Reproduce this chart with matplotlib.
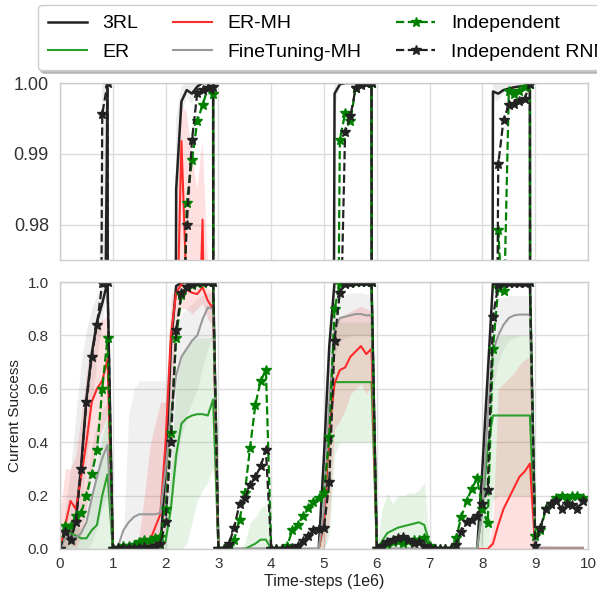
import matplotlib.pyplot as plt
import numpy as np

# evaluation points: 10 tasks, 10 evaluations per task (x in 1e6 steps)
x = np.arange(100) / 10

# mean curves, given per task segment (missing segments are 0)
rl3 = {0: [0.0, 0.07, 0.04, 0.11, 0.31, 0.56, 0.73, 0.85, 0.92, 1.0],
       2: [0.30, 0.76, 0.985, 0.9974, 0.999, 0.9985, 0.9995, 1.0, 1.0, 1.0],
       5: [0.35, 0.76, 0.9985, 0.9998, 1.0, 1.0, 1.0, 1.0, 1.0, 1.0],
       8: [0.30, 0.65, 0.9988, 0.9985, 0.999, 0.9992, 0.9994, 0.9995, 0.9996, 0.999]}
er = {0: [0.0, 0.08, 0.06, 0.05, 0.04, 0.04, 0.07, 0.09, 0.20, 0.28],
      2: [0.03, 0.15, 0.35, 0.47, 0.49, 0.50, 0.505, 0.505, 0.50, 0.56],
      3: [0.0, 0.0, 0.0, 0.0, 0.0, 0.0, 0.01, 0.02, 0.035, 0.035],
      5: [0.10, 0.45, 0.625, 0.625, 0.625, 0.625, 0.625, 0.625, 0.625, 0.625],
      6: [0.0, 0.03, 0.06, 0.07, 0.08, 0.085, 0.09, 0.095, 0.10, 0.09],
      7: [0.02, 0.0, 0.0, 0.0, 0.0, 0.0, 0.0, 0.0, 0.0, 0.0],
      8: [0.15, 0.38, 0.5, 0.5, 0.5, 0.5, 0.5, 0.5, 0.5, 0.5]}
er_mh = {0: [0.0, 0.09, 0.18, 0.15, 0.27, 0.40, 0.55, 0.60, 0.63, 0.71],
         1: [0.0, 0.0, 0.0, 0.0, 0.0, 0.0, 0.0, 0.03, 0.08, 0.13],
         2: [0.40, 0.80, 0.96, 0.9918, 0.97, 0.96, 0.955, 0.9807, 0.93, 0.90],
         5: [0.10, 0.45, 0.62, 0.67, 0.68, 0.72, 0.74, 0.76, 0.73, 0.75],
         8: [0.0, 0.0, 0.02, 0.09, 0.15, 0.19, 0.23, 0.27, 0.29, 0.32]}
ft_mh = {0: [0.0, 0.04, 0.05, 0.04, 0.06, 0.10, 0.19, 0.27, 0.34, 0.39],
         1: [0.0, 0.01, 0.07, 0.10, 0.12, 0.13, 0.13, 0.13, 0.13, 0.135],
         2: [0.30, 0.50, 0.65, 0.72, 0.75, 0.78, 0.80, 0.86, 0.905, 0.90],
         5: [0.15, 0.55, 0.82, 0.865, 0.87, 0.875, 0.88, 0.88, 0.875, 0.875],
         8: [0.15, 0.50, 0.74, 0.80, 0.84, 0.865, 0.875, 0.878, 0.878, 0.878],
         9: [0.0, 0.005, 0.005, 0.005, 0.005, 0.005, 0.005, 0.005, 0.005, 0.005]}
indep = {0: [0.0, 0.088, 0.088, 0.125, 0.135, 0.2, 0.28, 0.37, 0.60, 0.79],
         1: [0.0, 0.005, 0.01, 0.013, 0.015, 0.025, 0.035, 0.035, 0.04, 0.045],
         2: [0.15, 0.435, 0.79, 0.95, 0.983, 0.9891, 0.9946, 0.9969, 0.9993, 0.9985],
         3: [0.0, 0.0, 0.01, 0.035, 0.11, 0.21, 0.38, 0.54, 0.63, 0.67],
         4: [0.0, 0.0, 0.0, 0.01, 0.07, 0.09, 0.125, 0.155, 0.175, 0.19],
         5: [0.21, 0.42, 0.90, 0.992, 0.9957, 0.9946, 0.9993, 0.9998, 1.0, 1.0],
         6: [0.0, 0.01, 0.02, 0.028, 0.03, 0.022, 0.03, 0.032, 0.035, 0.04],
         7: [0.012, 0.0, 0.0, 0.0, 0.0, 0.04, 0.12, 0.18, 0.225, 0.265],
         8: [0.15, 0.096, 0.75, 0.9793, 0.965, 0.9988, 0.9985, 0.9988, 0.9995, 0.9999],
         9: [0.05, 0.07, 0.15, 0.17, 0.19, 0.2, 0.19, 0.2, 0.2, 0.19]}
indep_rnn = {0: [0.0, 0.065, 0.034, 0.10, 0.30, 0.55, 0.72, 0.84, 0.9956, 1.0],
             1: [0.0, 0.003, 0.005, 0.003, 0.005, 0.004, 0.006, 0.005, 0.01, 0.02],
             2: [0.10, 0.40, 0.82, 0.96, 0.980, 0.992, 0.9986, 0.999, 0.9993, 0.9994],
             3: [0.0, 0.0, 0.02, 0.08, 0.17, 0.19, 0.24, 0.27, 0.31, 0.37],
             4: [0.0, 0.0, 0.0, 0.0, 0.005, 0.01, 0.03, 0.05, 0.07, 0.075],
             5: [0.08, 0.25, 0.78, 0.96, 0.9931, 0.9953, 0.9993, 0.9997, 1.0, 1.0],
             6: [0.0, 0.01, 0.025, 0.033, 0.04, 0.045, 0.035, 0.023, 0.027, 0.012],
             7: [0.005, 0.0, 0.0, 0.0, 0.0, 0.015, 0.065, 0.10, 0.11, 0.125],
             8: [0.17, 0.22, 0.87, 0.9885, 0.9948, 0.9969, 0.9971, 0.9975, 0.9978, 0.9998],
             9: [0.01, 0.08, 0.15, 0.17, 0.18, 0.15, 0.17, 0.165, 0.15, 0.18]}

# shaded bands (lower / upper), per segment
rl3_lo = {0: [0, 0.0, 0.0, 0.02, 0.12, 0.33, 0.52, 0.72, 0.85, 1.0],
          2: [0.15, 0.65, 0.975, 0.9955, 0.998, 0.997, 0.999, 1.0, 1.0, 1.0],
          5: [0.2, 0.65, 0.996, 0.9995, 1, 1, 1, 1, 1, 1],
          8: [0.2, 0.55, 0.9975, 0.9975, 0.9985, 0.999, 0.9992, 0.9993, 0.9994, 0.998]}
rl3_hi = {0: [0, 0.15, 0.3, 0.5, 0.7, 0.82, 0.9, 0.95, 1.0, 1.0],
          2: [0.45, 0.87, 0.995, 0.9995, 1, 1, 1, 1, 1, 1],
          5: [0.5, 0.87, 1, 1, 1, 1, 1, 1, 1, 1],
          8: [0.45, 0.8, 1, 1, 1, 1, 1, 1, 1, 1]}
er_lo = {2: [0, 0, 0, 0, 0.02, 0.1, 0.18, 0.22, 0.25, 0.3],
         5: [0, 0.05, 0.35, 0.4, 0.4, 0.4, 0.4, 0.4, 0.4, 0.4],
         8: [0, 0.0, 0.18, 0.2, 0.2, 0.2, 0.2, 0.2, 0.2, 0.2]}
er_hi = {0: [0, 0.1, 0.1, 0.08, 0.08, 0.1, 0.2, 0.3, 0.42, 0.5],
         2: [0.1, 0.3, 0.62, 0.72, 0.76, 0.78, 0.79, 0.79, 0.79, 0.8],
         3: [0, 0, 0, 0, 0, 0.02, 0.1, 0.12, 0.15, 0.17],
         5: [0.1, 0.6, 0.85, 0.85, 0.85, 0.85, 0.85, 0.85, 0.85, 0.85],
         6: [0, 0.15, 0.21, 0.17, 0.2, 0.2, 0.21, 0.21, 0.22, 0.25],
         7: [0.02, 0, 0, 0, 0, 0, 0, 0, 0, 0],
         8: [0.1, 0.65, 0.78, 0.8, 0.8, 0.8, 0.8, 0.8, 0.8, 0.8]}
er_mh_lo = {0: [0, 0, 0.02, 0.0, 0.05, 0.15, 0.3, 0.4, 0.45, 0.5],
            2: [0.1, 0.5, 0.85, 0.9, 0.9, 0.88, 0.9, 0.92, 0.86, 0.84],
            5: [0, 0.1, 0.45, 0.48, 0.52, 0.58, 0.6, 0.62, 0.58, 0.62]}
er_mh_hi = {0: [0.12, 0.3, 0.3, 0.35, 0.5, 0.66, 0.78, 0.84, 0.86, 0.87],
            1: [0, 0, 0, 0, 0, 0.05, 0.2, 0.38, 0.47, 0.55],
            2: [0.55, 0.95, 0.985, 0.9965, 0.996, 0.99, 0.985, 0.992, 0.975, 0.97],
            5: [0.1, 0.6, 0.84, 0.87, 0.88, 0.89, 0.9, 0.91, 0.9, 0.89],
            8: [0, 0, 0.1, 0.6, 0.62, 0.64, 0.66, 0.69, 0.71, 0.72]}
ft_lo = {0: [0, 0, 0, 0, 0, 0, 0.02, 0.08, 0.15, 0.2],
         2: [0.0, 0.15, 0.3, 0.42, 0.5, 0.55, 0.6, 0.68, 0.75, 0.8],
         5: [0.05, 0.3, 0.72, 0.78, 0.79, 0.8, 0.8, 0.8, 0.8, 0.8],
         8: [0.02, 0.3, 0.6, 0.7, 0.75, 0.78, 0.79, 0.8, 0.8, 0.8]}
ft_hi = {0: [0, 0.08, 0.1, 0.1, 0.15, 0.25, 0.38, 0.47, 0.52, 0.55],
         1: [0, 0.0, 0.05, 0.5, 0.6, 0.63, 0.63, 0.63, 0.63, 0.63],
         2: [0.63, 0.72, 0.82, 0.88, 0.9, 0.92, 0.94, 0.95, 0.96, 0.96],
         5: [0.2, 0.75, 0.93, 0.95, 0.955, 0.96, 0.96, 0.96, 0.955, 0.95],
         8: [0.3, 0.75, 0.9, 0.94, 0.945, 0.95, 0.95, 0.95, 0.95, 0.95],
         9: [0, 0.01, 0.015, 0.012, 0.01, 0.01, 0.008, 0.008, 0.006, 0.005]}


def full(segs):
    out = np.zeros(100)
    for k, v in segs.items():
        out[k * 10:k * 10 + 10] = v
    return out


plt.rcParams['font.family'] = ['Liberation Sans', 'DejaVu Sans']
plt.rcParams['axes.edgecolor'] = '#cccccc'
plt.rcParams['axes.linewidth'] = 1.0

fig = plt.figure(figsize=(5.97, 5.94), dpi=100)
ax1 = fig.add_axes([60 / 597, 1 - 260 / 594, 528 / 597, 177 / 594])
ax2 = fig.add_axes([60 / 597, 1 - 549 / 594, 528 / 597, 267 / 594])

bands = [(rl3_lo, rl3_hi, 'black', 0.07),
         (ft_lo, ft_hi, '#999999', 0.14),
         (er_lo, er_hi, '#2ca02c', 0.12),
         (er_mh_lo, er_mh_hi, 'red', 0.12)]

lines = [(rl3, '3RL', dict(color='#222222', ls='-', lw=1.8)),
         (er, 'ER', dict(color='#2ca02c', ls='-', lw=1.5)),
         (er_mh, 'ER-MH', dict(color='#ff2a2a', ls='-', lw=1.5)),
         (ft_mh, 'FineTuning-MH', dict(color='#999999', ls='-', lw=1.5)),
         (indep, 'Independent', dict(color='green', ls='--', lw=1.6, marker='*', ms=7)),
         (indep_rnn, 'Independent RNN', dict(color='#222222', ls='--', lw=1.6, marker='*', ms=7))]

for ax in (ax1, ax2):
    ax.set_facecolor('white')
    for lo, hi, c, a in bands:
        ax.fill_between(x, full(lo), full(hi), color=c, alpha=a, lw=0)
    for d, lab, kw in lines:
        ax.plot(x, full(d), label=lab, **kw)
    ax.set_xlim(0, 10)
    ax.set_xticks(range(11))
    ax.grid(True, color='#dddddd', lw=1.0)
    ax.set_axisbelow(True)
    ax.tick_params(length=0, colors='#333333')

ax1.set_ylim(0.975, 1.0)
ax1.set_yticks([0.98, 0.99, 1.00])
ax1.set_yticklabels(['0.98', '0.99', '1.00'], fontsize=13)
ax1.set_xticklabels([])
ax1.tick_params(axis='y', pad=8)

ax2.set_ylim(0, 1)
ax2.set_yticks([0, 0.2, 0.4, 0.6, 0.8, 1.0])
ax2.set_yticklabels(['0.0', '0.2', '0.4', '0.6', '0.8', '1.0'], fontsize=11)
ax2.set_xticklabels([str(i) for i in range(11)], fontsize=11)
ax2.tick_params(axis='y', pad=8)
ax2.tick_params(axis='x', pad=6)
ax2.set_ylabel('Current Success', fontsize=11, color='#222222')
ax2.set_xlabel('Time-steps (1e6)', fontsize=11.5, color='#222222', labelpad=2)

# the legend runs past the right edge, as in the reference
h, l = ax2.get_legend_handles_labels()
fig.legend(h, l, ncol=3, loc='upper left', bbox_to_anchor=(38 / 597, 1 - 5 / 594),
           fontsize=14, frameon=True, fancybox=True, borderaxespad=0,
           shadow={'color': '#999999', 'alpha': 0.6}, borderpad=0.5,
           columnspacing=1.8, labelspacing=0.55, edgecolor='#cccccc')

fig.savefig('out.png', dpi=100)
